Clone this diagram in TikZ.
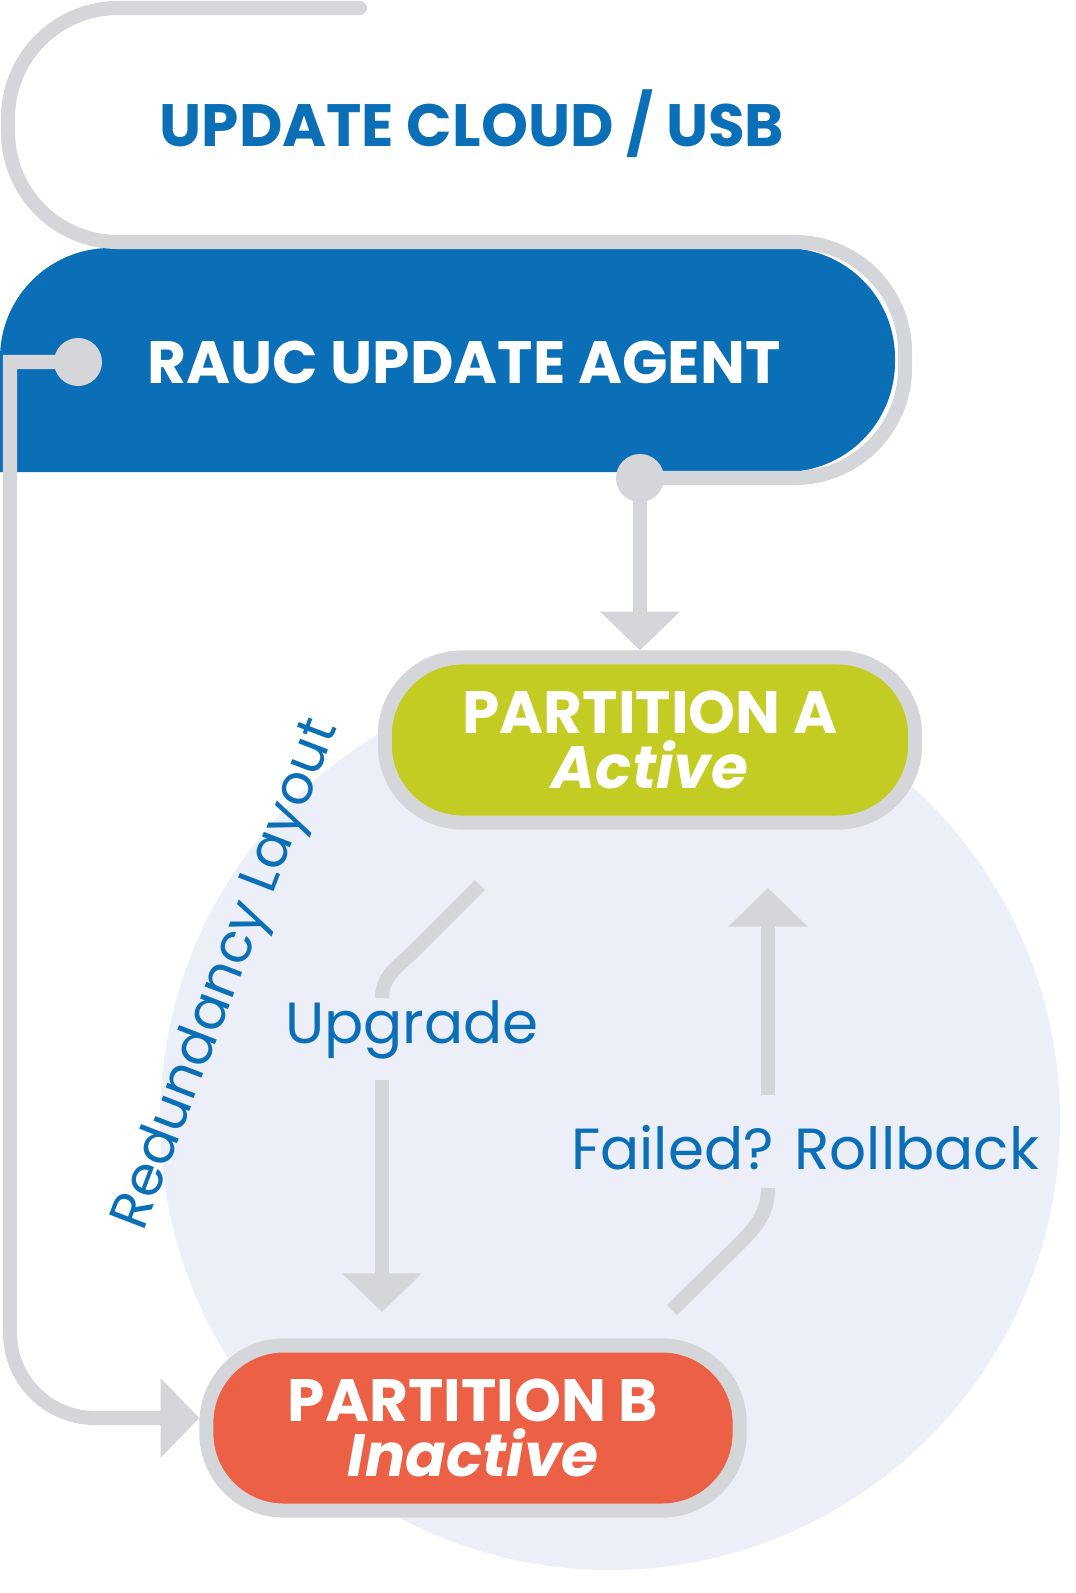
\documentclass[tikz,border=0pt]{standalone}
\usepackage{fontspec}
\setmainfont{Poppins}
\usetikzlibrary{arrows.meta}
\definecolor{gl}{HTML}{D5D6DA}
\definecolor{bl}{HTML}{0A6FB6}
\definecolor{ci}{HTML}{ECEEF8}
\definecolor{ga}{HTML}{C2CC22}
\definecolor{rb}{HTML}{EC6146}
\tikzset{
 gline/.style={draw=gl,line width=4pt},
 arr/.style={gline,-{Triangle[width=22pt,length=11pt]}},
 part/.style={draw=gl,line width=4pt,rounded corners=22pt,text=white,font=\fontsize{17}{18.5}\selectfont\bfseries,align=center},
 lab/.style={text=bl,font=\fontsize{16.5}{18}\selectfont}
}
\begin{document}
\begin{tikzpicture}[x=0.01cm,y=-0.01cm]
\useasboundingbox (0,0) rectangle (1076,1593);
\fill[ci] (610,1120) circle (450);
% blue box
\fill[bl] (0,472) [rounded corners=1.1cm]-- (0,248) -- (895,248) -- (895,472) [sharp corners]-- cycle;
% top outline
\coordinate (t0) at (360,8);
\draw[gline,line cap=round,rounded corners=1.1cm] (t0) -- (8,8) -- (8,242) -- (905,242) -- (905,478) -- (640,478);
\node[text=bl,font=\fontsize{17}{20}\selectfont\bfseries] (cloud) at (472,124) {UPDATE CLOUD / USB};
\node[text=white,font=\fontsize{17}{20}\selectfont\bfseries,anchor=west] (rauc) at (135,362) {RAUC UPDATE AGENT};
\coordinate (d1) at (640,478);
\coordinate (d2) at (78,362);
% partitions
\node[part,fill=ga,minimum width=5.3cm,minimum height=1.65cm] (pa) at (650,740) {PARTITION A\\[-3pt]\itshape Active};
\node[part,fill=rb,minimum width=5.33cm,minimum height=1.65cm] (pb) at (473,1428) {PARTITION B\\[-3pt]\itshape Inactive};
\draw[arr] (d1) -- (pa.north -| d1);
\draw[arr] (d2) -- (10,362) [rounded corners=0.85cm]-- (10,1418) -- (pb.west |- 0,1418);
\fill[gl] (d1) circle (24);
\fill[gl] (d2) circle (24);
% upgrade
\node[lab] (up) at (412,1030) {Upgrade};
\draw[gline] (480,885) -- (415,950) to[out=-135,in=90] (382,998);
\draw[arr] (382,1080) -- (382,1312);
% rollback
\node[lab] (rb) at (805,1148) {Failed? Rollback};
\draw[gline] (672,1310) -- (738,1245) to[out=45,in=-90] (768,1188);
\draw[arr] (768,1095) -- (768,888);
\node[text=bl,font=\fontsize{15.5}{18}\selectfont,rotate=69] (red) at (228,975) {Redundancy Layout};
\end{tikzpicture}
\end{document}
